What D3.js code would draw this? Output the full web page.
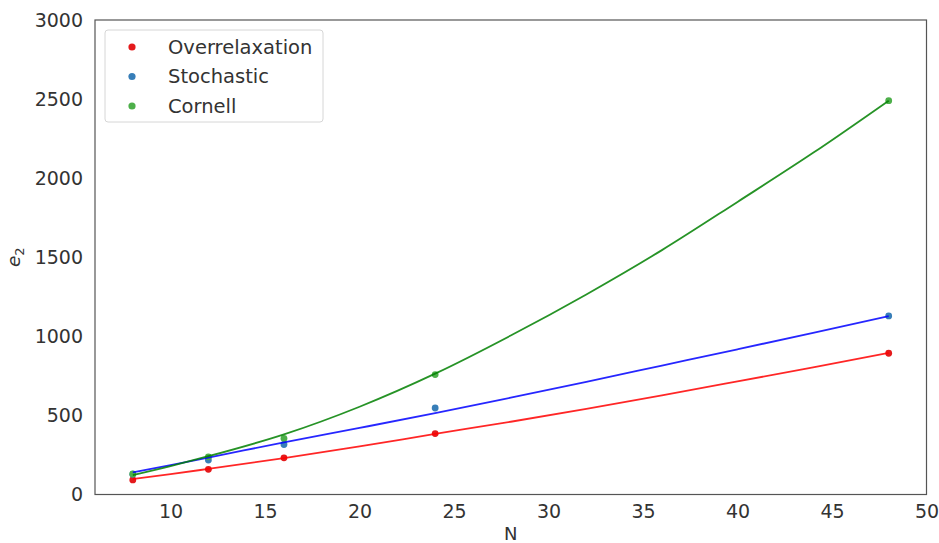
<!DOCTYPE html>
<html><head><meta charset="utf-8">
<script src="https://cdn.jsdelivr.net/npm/d3@7"></script>
<style>body{margin:0;background:#fff}svg{display:block}text{font-family:"DejaVu Sans",sans-serif;fill:#333}</style>
</head><body><svg id="c" width="939" height="543"></svg>
<script>
// measured data points
const nValues = [8, 12, 16, 24, 48];
const overrelaxation = [92, 159, 232, 385, 893];
const stochastic = [128, 218, 316, 547, 1129];
const cornell = [130, 238, 354, 758, 2490];
// fitted curves
const fitN = [8, 10, 12, 16, 20, 24, 28, 32, 36, 40, 44, 48];
const fitOverrelaxation = [98, 129, 162, 230, 304, 383, 460, 542, 627, 715, 804, 895];
const fitStochastic = [140, 186, 233, 330, 421, 514, 612, 712, 815, 918, 1022, 1128];
const fitCornell = [123, 180, 242, 380, 555, 764, 1005, 1265, 1545, 1850, 2160, 2490];
const xTicks = [10, 15, 20, 25, 30, 35, 40, 45, 50];
const yTicks = [0, 500, 1000, 1500, 2000, 2500, 3000];
const seriesNames = ["Overrelaxation", "Stochastic", "Cornell"];
const pointColors = ["#e41a1c", "#377eb8", "#4daf4a"];
const lineColors = ["#ff0000", "#0000ff", "#008000"];

const svg = d3.select("#c");
const L = 95, R = 926.5, T = 20, B = 494.5;
const x = d3.scaleLinear().domain([6, 50]).range([L, R]);
const y = d3.scaleLinear().domain([0, 3000]).range([B, T]);
const fs = 19;

// axes
const xa = svg.append("g").attr("transform", `translate(0,${B})`)
  .call(d3.axisBottom(x).tickValues(xTicks).tickFormat(d3.format("d")).tickSize(0).tickPadding(10));
const ya = svg.append("g").attr("transform", `translate(${L},0)`)
  .call(d3.axisLeft(y).tickValues(yTicks).tickFormat(d3.format("d")).tickSize(0).tickPadding(12));
[xa, ya].forEach(g => {
  g.select(".domain").remove();
  g.selectAll("text").attr("font-size", fs).attr("font-family", "DejaVu Sans").attr("fill", "#333");
});

const pts = [overrelaxation, stochastic, cornell];
const fits = [fitOverrelaxation, fitStochastic, fitCornell];

pts.forEach((vals, i) => {
  svg.append("g").selectAll("circle").data(nValues.map((n, j) => [n, vals[j]]))
    .join("circle").attr("cx", d => x(d[0])).attr("cy", d => y(d[1]))
    .attr("r", 3.4).attr("fill", pointColors[i]);
});
const line = d3.line().x(d => x(d[0])).y(d => y(d[1])).curve(d3.curveMonotoneX);
fits.forEach((vals, i) => {
  svg.append("path").datum(fitN.map((n, j) => [n, vals[j]]))
    .attr("d", line).attr("fill", "none").attr("stroke", lineColors[i])
    .attr("stroke-opacity", 0.85).attr("stroke-width", 1.8);
});

// frame
svg.append("rect").attr("x", L).attr("y", T).attr("width", R - L).attr("height", B - T)
  .attr("fill", "none").attr("stroke", "#555").attr("stroke-width", 1.2);

// axis labels
svg.append("text").attr("x", (L + R) / 2).attr("y", 540).attr("text-anchor", "middle")
  .attr("font-size", 18).text("N");
const yl = svg.append("text").attr("transform", `translate(19.5,${(T + B) / 2}) rotate(-90)`)
  .attr("text-anchor", "middle").attr("font-size", 18.5);
yl.append("tspan").attr("font-style", "italic").text("e");
yl.append("tspan").attr("font-size", 13).attr("dy", 4).text("2");

// legend
const lg = svg.append("g");
lg.append("rect").attr("x", 105).attr("y", 30).attr("width", 218).attr("height", 92)
  .attr("rx", 3).attr("fill", "#fff").attr("fill-opacity", 0.8).attr("stroke", "#d6d6d6");
seriesNames.forEach((name, i) => {
  const cy = 47 + i * 29.5;
  lg.append("circle").attr("cx", 132).attr("cy", cy).attr("r", 3.6).attr("fill", pointColors[i]);
  lg.append("text").attr("x", 168).attr("y", cy).attr("dominant-baseline", "central")
    .attr("font-size", 19.5).text(name);
});
</script></body></html>
